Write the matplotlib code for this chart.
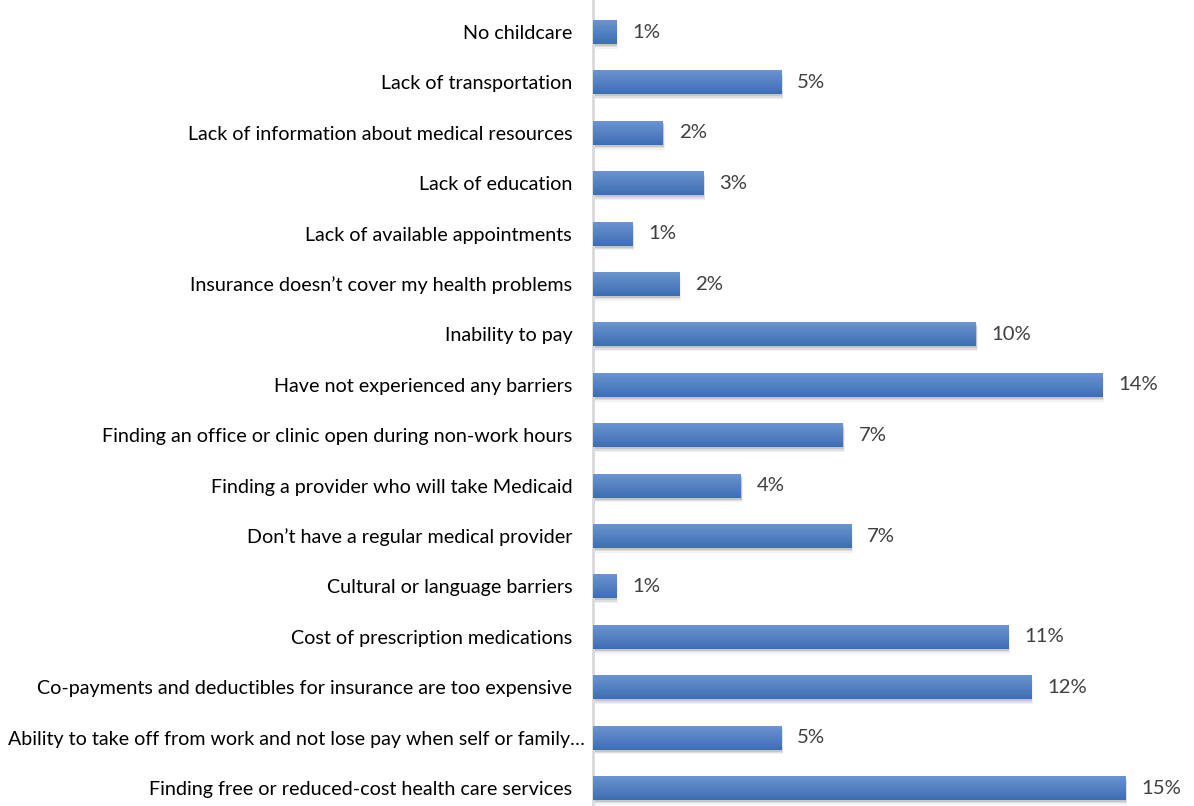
import matplotlib
matplotlib.use("Agg")
import matplotlib.pyplot as plt
import matplotlib.patheffects as pe
import matplotlib.transforms as mtransforms
import numpy as np
from matplotlib.colors import LinearSegmentedColormap

categories = [
    "No childcare",
    "Lack of transportation",
    "Lack of information about medical resources",
    "Lack of education",
    "Lack of available appointments",
    "Insurance doesn\u2019t cover my health problems",
    "Inability to pay",
    "Have not experienced any barriers",
    "Finding an office or clinic open during non-work hours",
    "Finding a provider who will take Medicaid",
    "Don\u2019t have a regular medical provider",
    "Cultural or language barriers",
    "Cost of prescription medications",
    "Co-payments and deductibles for insurance are too expensive",
    "Ability to take off from work and not lose pay when self or family\u2026",
    "Finding free or reduced-cost health care services",
]
percent = [0.63, 5.14, 1.91, 3.01, 1.07, 2.35, 10.46, 13.91,
           6.83, 4.04, 7.05, 0.63, 11.34, 11.97, 5.14, 14.54]

W, H = 1194, 806
fig = plt.figure(figsize=(W / 100, H / 100), dpi=100)
ax = fig.add_axes([593 / W, 0, 1 - 593 / W, 1])

font = "Lato"
bar_h = 0.476
y = np.arange(len(categories))
top_c, bot_c = "#6b94d0", "#3d6eb4"
grad = LinearSegmentedColormap.from_list("bar", [top_c, bot_c])

# soft drop shadow built from a few faint offset layers
shadow = [
    pe.SimplePatchShadow(offset=(1.5, -3.5), shadow_rgbFace="#9a9a9a", alpha=0.12),
    pe.SimplePatchShadow(offset=(1.0, -2.5), shadow_rgbFace="#8a8a8a", alpha=0.18),
    pe.SimplePatchShadow(offset=(0.5, -1.5), shadow_rgbFace="#7a7a7a", alpha=0.25),
    pe.Normal(),
]
ax.barh(y, percent, height=bar_h, color=bot_c, linewidth=0, path_effects=shadow)

g = np.linspace(0, 1, 64).reshape(-1, 1)
for yi, v in zip(y, percent):
    ax.imshow(g, cmap=grad, aspect="auto", origin="upper",
              extent=(0, v, yi + bar_h / 2, yi - bar_h / 2), zorder=3,
              interpolation="bilinear")
    ax.text(v + 16 / 36.6, yi, f"{round(v):.0f}%", va="center", ha="left",
            fontsize=14.6, color="#404040", family=font)

ax.set_xlim(0, (W - 593) / 36.6)
ax.set_ylim((H - 32) / 50.4, -32 / 50.4)
ax.set_yticks(y)
ax.set_yticklabels(categories, fontsize=14.2, family=font, color="black")
ax.tick_params(axis="y", length=0, pad=15)
ax.set_xticks([])
for s in ["top", "right", "bottom"]:
    ax.spines[s].set_visible(False)
ax.spines["left"].set_color("#d9d9d9")
ax.spines["left"].set_linewidth(2)

# the truncated label sits a little further right so it fits the figure
long_lbl = ax.get_yticklabels()[14]
long_lbl.set_fontsize(14.1)
long_lbl.set_transform(long_lbl.get_transform() +
                       mtransforms.ScaledTranslation(13 / 100, 0, fig.dpi_scale_trans))

fig.savefig("out.png", dpi=100)
